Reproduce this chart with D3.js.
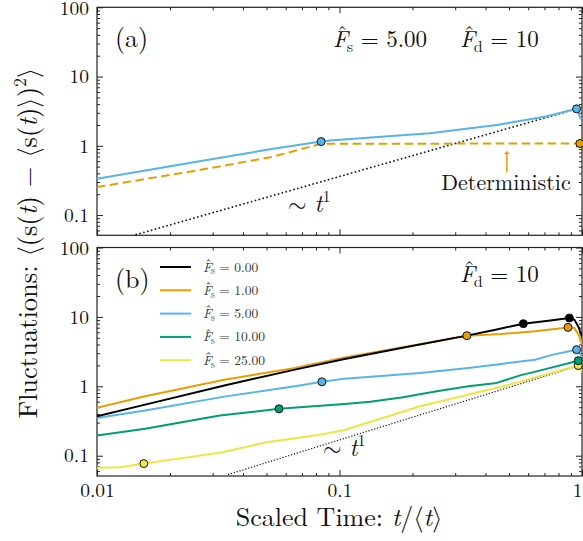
<!DOCTYPE html>
<html><head><meta charset="utf-8">
<script src="https://cdn.jsdelivr.net/npm/d3@7"></script>
<style>
html,body{margin:0;padding:0;background:#fff;}
svg{display:block;}
</style></head>
<body><svg id="c" width="583" height="541"></svg>
<script>
// ---------- data ----------
const xTicks = [0.01, 0.1, 1];
const xTickLabels = ["0.01", "0.1", "1"];
const yTicks = [0.1, 1, 10, 100];
const yTickLabels = ["0.1", "1", "10", "100"];

// panel (a): F_s = 5.00, F_d = 10
const aStochT = [0.01, 0.0254, 0.0525, 0.084, 0.0912, 0.236, 0.445, 0.71, 0.95, 0.99];
const aStochV = [0.334, 0.582, 0.896, 1.15, 1.19, 1.52, 2.0, 2.65, 3.42, 2.4];
const aDetT = [0.01, 0.0254, 0.0525, 0.084, 0.98];
const aDetV = [0.254, 0.436, 0.687, 1.07, 1.08];
const aStochMarkT = [0.084, 0.95];
const aStochMarkV = [1.15, 3.42];
const aDetMarkT = [0.98];
const aDetMarkV = [1.08];
const aGuideT = [0.01, 1];
const aGuideV = [0.036, 3.6];

// panel (b): F_d = 10, several F_s
const bLabels = ["0.00", "1.00", "5.00", "10.00", "25.00"];
const bColors = ["#000000", "#E69F00", "#56B4E9", "#009E73", "#F0E442"];
const bT0 = [0.01, 0.0158, 0.0335, 0.0655, 0.105, 0.18, 0.335, 0.44, 0.573, 0.74, 0.887, 0.93, 0.965, 1.0];
const bV0 = [0.37, 0.545, 1.03, 1.74, 2.48, 3.57, 5.37, 6.53, 7.99, 8.9, 9.64, 9.1, 7.3, 5.2];
const bT1 = [0.01, 0.0158, 0.0335, 0.0655, 0.105, 0.18, 0.335, 0.465, 0.64, 0.876, 0.93, 0.97, 1.0];
const bV1 = [0.489, 0.718, 1.24, 1.84, 2.61, 3.62, 5.37, 5.67, 6.19, 7.06, 6.9, 5.5, 4.0];
const bT2 = [0.01, 0.0158, 0.0335, 0.0655, 0.0846, 0.105, 0.215, 0.34, 0.473, 0.64, 0.76, 0.95, 0.985, 1.0];
const bV2 = [0.35, 0.447, 0.71, 1.0, 1.16, 1.29, 1.56, 1.84, 2.12, 2.42, 2.86, 3.37, 2.9, 2.6];
const bT3 = [0.01, 0.0158, 0.0321, 0.0563, 0.105, 0.134, 0.18, 0.252, 0.34, 0.445, 0.56, 0.65, 0.965, 1.0];
const bV3 = [0.195, 0.244, 0.379, 0.473, 0.558, 0.6, 0.69, 0.847, 1.0, 1.12, 1.45, 1.64, 2.34, 2.1];
const bT4 = [0.01, 0.0125, 0.0156, 0.0214, 0.0321, 0.05, 0.0832, 0.105, 0.215, 0.473, 0.965, 1.0];
const bV4 = [0.067, 0.068, 0.077, 0.090, 0.110, 0.156, 0.2, 0.235, 0.515, 1.0, 1.99, 1.6];
const bMarkT = [[0.573, 0.887], [0.335, 0.876], [0.0846, 0.95], [0.0563, 0.965], [0.0156, 0.965]];
const bMarkV = [[7.99, 9.64], [5.37, 7.06], [1.16, 3.37], [0.473, 2.34], [0.077, 1.99]];
const bGuideT = [0.0347, 1];
const bGuideV = [0.0536, 2.05];

// ---------- layout ----------
const FONT = '"Latin Modern Roman","Latin Modern Math","CMU Serif","DejaVu Serif",serif';
const svg = d3.select("#c");
const X0 = 97, X1 = 582;
const x = d3.scaleLog().domain([0.01, 1]).range([X0, X1]);
const yDomain = [0.051, 100];
const yA = d3.scaleLog().domain(yDomain).range([235.3, 7.3]);
const yB = d3.scaleLog().domain(yDomain).range([476, 247.5]);

const minorX = [];
[0.01, 0.1].forEach(b => { for (let k = 2; k <= 9; k++) minorX.push(b * k); });
const minorY = [0.06, 0.07, 0.08, 0.09];
[0.1, 1, 10].forEach(b => { for (let k = 2; k <= 9; k++) minorY.push(b * k); });

function txt(px, py, size) {
  return svg.append("text").attr("x", px).attr("y", py)
    .style("font-family", FONT).style("font-size", size + "px").style("fill", "#111");
}

function drawAxes(y, showX, id) {
  const g = svg.append("g");
  const top = y.range()[1], bot = y.range()[0];
  const mk = (axis, tr) => {
    const a = g.append("g").attr("transform", tr).call(axis);
    a.select(".domain").remove();
    a.selectAll("line").attr("stroke", "#222").attr("stroke-width", 1);
    a.selectAll("text").style("font-family", FONT).style("font-size", "19.5px").style("fill", "#111");
    return a;
  };
  const la = mk(d3.axisLeft(y).tickValues(yTicks).tickSize(-6).tickPadding(8)
      .tickFormat((d, i) => yTickLabels[i]), `translate(${X0},0)`);
  la.selectAll("text").filter(d => d === 100).attr("dy", "0.36em");
  mk(d3.axisLeft(y).tickValues(minorY).tickSize(-3).tickFormat(""), `translate(${X0},0)`);
  mk(d3.axisRight(y).tickValues(yTicks).tickSize(-6).tickFormat(""), `translate(${X1},0)`);
  mk(d3.axisRight(y).tickValues(minorY).tickSize(-3).tickFormat(""), `translate(${X1},0)`);
  const ba = mk(d3.axisBottom(x).tickValues(xTicks).tickSize(-6).tickPadding(7)
      .tickFormat((d, i) => showX ? xTickLabels[i] : ""), `translate(0,${bot})`);
  ba.selectAll("text").filter(d => d === 1).attr("dx", -5);
  mk(d3.axisBottom(x).tickValues(minorX).tickSize(-3).tickFormat(""), `translate(0,${bot})`);
  mk(d3.axisTop(x).tickValues(xTicks).tickSize(-6).tickFormat(""), `translate(0,${top})`);
  mk(d3.axisTop(x).tickValues(minorX).tickSize(-3).tickFormat(""), `translate(0,${top})`);
  g.append("rect").attr("x", X0).attr("y", top).attr("width", X1 - X0).attr("height", bot - top)
    .attr("fill", "none").attr("stroke", "#222").attr("stroke-width", 1.2);
  svg.append("clipPath").attr("id", id).append("rect")
    .attr("x", X0).attr("y", top).attr("width", X1 - X0).attr("height", bot - top);
}

function line(y, T, V, color, width, dash, clipId) {
  const gen = d3.line().x(d => x(d[0])).y(d => y(d[1]));
  svg.append("path").datum(T.map((t, i) => [t, V[i]]))
    .attr("d", gen).attr("fill", "none").attr("stroke", color)
    .attr("stroke-width", width).attr("stroke-dasharray", dash || null)
    .attr("stroke-linejoin", "round")
    .attr("clip-path", `url(#${clipId})`);
}
function dots(y, T, V, color) {
  svg.append("g").selectAll("circle").data(T.map((t, i) => [t, V[i]])).join("circle")
    .attr("cx", d => x(d[0])).attr("cy", d => y(d[1])).attr("r", 4)
    .attr("fill", color).attr("stroke", "#111").attr("stroke-width", 1);
}

// ---------- panel (a) ----------
drawAxes(yA, false, "clipA");
line(yA, aGuideT, aGuideV, "#111", 1.6, "1.6,2.4", "clipA");
line(yA, aDetT, aDetV, "#E69F00", 2, "8.5,4.5", "clipA");
line(yA, aStochT, aStochV, "#56B4E9", 2, null, "clipA");
dots(yA, aStochMarkT, aStochMarkV, "#56B4E9");
dots(yA, aDetMarkT, aDetMarkV, "#E69F00");

// ---------- panel (b) ----------
drawAxes(yB, true, "clipB");
line(yB, bGuideT, bGuideV, "#111", 1.2, "1.2,1.8", "clipB");
const bT = [bT0, bT1, bT2, bT3, bT4], bV = [bV0, bV1, bV2, bV3, bV4];
for (let k = 4; k >= 0; k--) line(yB, bT[k], bV[k], bColors[k], 2, null, "clipB");
for (let k = 4; k >= 0; k--) dots(yB, bMarkT[k], bMarkV[k], bColors[k]);

// ---------- text ----------
// italic F with a hat, followed by a roman subscript
function fhat(sel, sub, s) {
  sel.append("tspan").style("font-style", "italic").text("F");
  sel.append("tspan").attr("dx", -0.5 * s).attr("dy", -0.2 * s).text("\u02C6");
  sel.append("tspan").style("font-size", (s * 0.7) + "px").attr("dx", -0.06 * s).attr("dy", 0.42 * s).text(sub);
  sel.append("tspan").attr("dy", -0.22 * s).text(" ");
}
txt(115, 47, 26).text("(a)");
txt(115, 288, 26).text("(b)");

{ const t = txt(333, 46.5, 23); fhat(t, "s", 23); t.append("tspan").text("= 5.00"); }
{ const t = txt(460, 46.5, 23); fhat(t, "d", 23); t.append("tspan").text("= 10"); }
{ const t = txt(460, 282, 23); fhat(t, "d", 23); t.append("tspan").text("= 10"); }

function tlabel(px, py) {
  const t = txt(px, py, 24);
  t.append("tspan").text("\u223C ");
  t.append("tspan").style("font-style", "italic").text("t");
  t.append("tspan").style("font-size", "16px").attr("dy", -10).text("1");
}
tlabel(288, 212);
tlabel(323, 456);

// Deterministic annotation
txt(506, 190, 22).attr("text-anchor", "middle").text("Deterministic");
const arrowT = 0.49;
svg.append("line").attr("x1", x(arrowT)).attr("x2", x(arrowT))
  .attr("y1", yA(0.41)).attr("y2", yA(0.78)).attr("stroke", "#E69F00").attr("stroke-width", 1.5);
svg.append("path").attr("d", d3.line()([[x(arrowT) - 3, yA(0.76)], [x(arrowT), yA(0.84)], [x(arrowT) + 3, yA(0.76)]]))
  .attr("fill", "#E69F00");

// legend
bLabels.forEach((lab, i) => {
  const yy = 267 + i * 23.3;
  svg.append("line").attr("x1", 160).attr("x2", 191).attr("y1", yy).attr("y2", yy)
    .attr("stroke", bColors[i]).attr("stroke-width", 2);
  const t = txt(203, yy + 4.5, 13.5).style("fill", "#333");
  fhat(t, "s", 13.5); t.append("tspan").text("= " + lab);
});

// axis titles
{
  const t = txt(339, 526, 26).attr("text-anchor", "middle");
  t.append("tspan").text("Scaled Time: ");
  t.append("tspan").style("font-style", "italic").text("t");
  t.append("tspan").text("/\u27E8");
  t.append("tspan").style("font-style", "italic").text("t");
  t.append("tspan").text("\u27E9");
}
{
  const t = svg.append("text").attr("transform", "translate(37,243) rotate(-90)")
    .attr("text-anchor", "middle").style("font-family", FONT).style("font-size", "26.5px").style("fill", "#111");
  t.append("tspan").text("Fluctuations:  \u27E8(s(");
  t.append("tspan").style("font-style", "italic").text("t");
  t.append("tspan").text(") \u2212 \u27E8s(");
  t.append("tspan").style("font-style", "italic").text("t");
  t.append("tspan").text(")\u27E9)");
  t.append("tspan").style("font-size", "18px").attr("dy", -11).text("2");
  t.append("tspan").attr("dy", 11).text("\u27E9");
}
</script></body></html>
